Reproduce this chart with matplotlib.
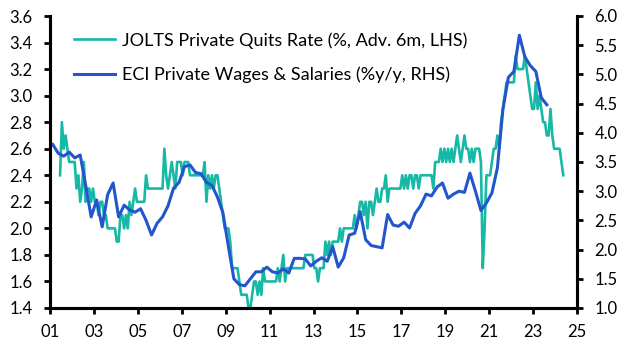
import numpy as np
import matplotlib
matplotlib.use("Agg")
import matplotlib.pyplot as plt

# JOLTS private quits rate, monthly, advanced 6m (first point = Jun 2001)
quits_2001 = [2.4, 2.8, 2.6, 2.7, 2.6, 2.5, 2.5]
quits_2002 = [2.5, 2.5, 2.3, 2.4, 2.2, 2.3, 2.5, 2.2, 2.3, 2.3, 2.2, 2.3]
quits_2003 = [2.2, 2.2, 2.1, 2.2, 2.2, 2.1, 2.1, 2.0, 2.0, 2.0, 2.0, 2.0]
quits_2004 = [1.9, 1.9, 2.1, 2.1, 2.0, 2.1, 2.0, 2.2, 2.1, 2.2, 2.3, 2.2]
quits_2005 = [2.2, 2.2, 2.2, 2.2, 2.4, 2.3, 2.3, 2.3, 2.3, 2.3, 2.3, 2.3]
quits_2006 = [2.3, 2.3, 2.6, 2.4, 2.3, 2.4, 2.5, 2.4, 2.3, 2.5, 2.5, 2.5]
quits_2007 = [2.4, 2.5, 2.5, 2.5, 2.4, 2.4, 2.4, 2.4, 2.4, 2.4, 2.4, 2.4]
quits_2008 = [2.5, 2.2, 2.4, 2.3, 2.4, 2.3, 2.4, 2.4, 2.3, 2.2, 2.1, 2.0]
quits_2009 = [2.0, 2.0, 1.9, 1.7, 1.7, 1.7, 1.7, 1.6, 1.5, 1.5, 1.5, 1.5]
quits_2010 = [1.4, 1.4, 1.5, 1.6, 1.6, 1.5, 1.6, 1.5, 1.7, 1.6, 1.6, 1.6]
quits_2011 = [1.6, 1.6, 1.6, 1.6, 1.7, 1.6, 1.7, 1.8, 1.6, 1.7, 1.7, 1.7]
quits_2012 = [1.7, 1.7, 1.7, 1.7, 1.7, 1.7, 1.7, 1.8, 1.8, 1.8, 1.8, 1.8]
quits_2013 = [1.7, 1.7, 1.6, 1.7, 1.7, 1.7, 1.9, 1.8, 1.9, 1.8, 1.9, 1.9]
quits_2014 = [1.9, 1.9, 2.0, 1.9, 2.0, 2.0, 2.0, 2.0, 2.0, 2.0, 2.1, 2.0]
quits_2015 = [2.1, 2.2, 2.2, 2.1, 2.2, 2.0, 2.2, 2.2, 2.1, 2.2, 2.3, 2.2]
quits_2016 = [2.2, 2.3, 2.3, 2.4, 2.2, 2.3, 2.3, 2.3, 2.3, 2.3, 2.3, 2.3]
quits_2017 = [2.4, 2.3, 2.4, 2.3, 2.4, 2.4, 2.3, 2.4, 2.4, 2.3, 2.4, 2.4]
quits_2018 = [2.4, 2.4, 2.4, 2.4, 2.4, 2.3, 2.5, 2.5, 2.5, 2.6, 2.5, 2.6]
quits_2019 = [2.5, 2.6, 2.5, 2.6, 2.5, 2.6, 2.7, 2.6, 2.5, 2.6, 2.7, 2.6]
quits_2020 = [2.6, 2.5, 2.6, 2.5, 2.6, 2.6, 2.6, 2.5, 1.7, 2.0, 2.4, 2.4]
quits_2021 = [2.4, 2.5, 2.6, 2.6, 2.7, 2.6, 2.8, 2.9, 3.0, 3.1, 3.1, 3.1]
quits_2022 = [3.1, 3.1, 3.3, 3.2, 3.2, 3.2, 3.2, 3.3, 3.2, 3.1, 3.0, 2.9]
quits_2023 = [2.9, 3.1, 2.9, 3.0, 2.9, 2.8, 2.8, 2.7, 2.7, 2.9, 2.7, 2.6]
quits_2024 = [2.6, 2.6, 2.6, 2.5, 2.4]

quits = (quits_2001 + quits_2002 + quits_2003 + quits_2004 + quits_2005 + quits_2006
         + quits_2007 + quits_2008 + quits_2009 + quits_2010 + quits_2011 + quits_2012
         + quits_2013 + quits_2014 + quits_2015 + quits_2016 + quits_2017 + quits_2018
         + quits_2019 + quits_2020 + quits_2021 + quits_2022 + quits_2023 + quits_2024)

# ECI private wages & salaries, %y/y, quarterly from 2001Q1
eci = [3.8, 3.65, 3.6, 3.67, 3.57, 3.62, 3.1, 2.56, 2.85, 2.39,
       2.94, 3.14, 2.56, 2.76, 2.68, 2.64, 2.7, 2.5, 2.25, 2.45,
       2.56, 2.75, 3.05, 3.15, 3.42, 3.45, 3.32, 3.3, 3.15, 3.1,
       2.9, 2.63, 2.05, 1.5, 1.4, 1.38, 1.5, 1.62, 1.62, 1.7,
       1.62, 1.6, 1.67, 1.6, 1.85, 1.85, 1.84, 1.72, 1.8, 1.86,
       1.8, 2.05, 1.7, 1.86, 2.25, 2.28, 2.65, 2.17, 2.07, 2.05,
       2.03, 2.6, 2.42, 2.4, 2.47, 2.37, 2.62, 2.75, 2.95, 2.92,
       3.07, 3.14, 2.88, 2.95, 3.0, 2.98, 3.31, 3.0, 2.67, 2.8,
       2.97, 3.4, 4.4, 4.95, 5.05, 5.67, 5.3, 5.15, 5.05, 4.6,
       4.48]

year_ticks = list(range(2001, 2026, 2))
year_labels = ["%02d" % (y % 100) for y in year_ticks]

t_quits = 2001 + 5.5 / 12 + np.arange(len(quits)) / 12
t_eci = 2001.125 + 0.25 * np.arange(len(eci))

teal = "#17b8a6"
blue = "#2355cc"

plt.rcParams["font.family"] = ["Lato", "DejaVu Sans"]
plt.rcParams["font.size"] = 12

fig = plt.figure(figsize=(6.28, 3.53), dpi=100)
ax = fig.add_axes([50 / 628, 1 - 308 / 353, 527 / 628, 292 / 353])
ax2 = ax.twinx()

l1, = ax.plot(t_quits, quits, color=teal, lw=1.9, label="JOLTS Private Quits Rate (%, Adv. 6m, LHS)")
l2, = ax2.plot(t_eci, eci, color=blue, lw=2.2, label="ECI Private Wages & Salaries (%y/y, RHS)")

ax.set_xlim(2001, 2025)
ax.set_ylim(1.4, 3.6)
ax.set_yticks(np.arange(1.4, 3.61, 0.2))
ax.set_yticklabels(["%.1f" % v for v in np.arange(1.4, 3.61, 0.2)])
ax2.set_ylim(1.0, 6.0)
ax2.set_yticks(np.arange(1.0, 6.01, 0.5))
ax2.set_yticklabels(["%.1f" % v for v in np.arange(1.0, 6.01, 0.5)])
ax.set_xticks(year_ticks)
ax.set_xticklabels(year_labels)

for a in (ax, ax2):
    a.spines["top"].set_visible(False)
    for s in a.spines.values():
        s.set_linewidth(2.2)
        s.set_color("black")
    a.tick_params(direction="out", length=4.5, width=2, colors="black", pad=8)
ax.tick_params(axis="x", pad=7)

ax.legend([l1, l2], [l1.get_label(), l2.get_label()], loc="upper left",
          bbox_to_anchor=(0.045, 0.945), frameon=False, handlelength=2.3,
          handletextpad=0.35, labelspacing=1.0, borderpad=0, borderaxespad=0,
          fontsize=13)

fig.savefig("out.png", dpi=100)
